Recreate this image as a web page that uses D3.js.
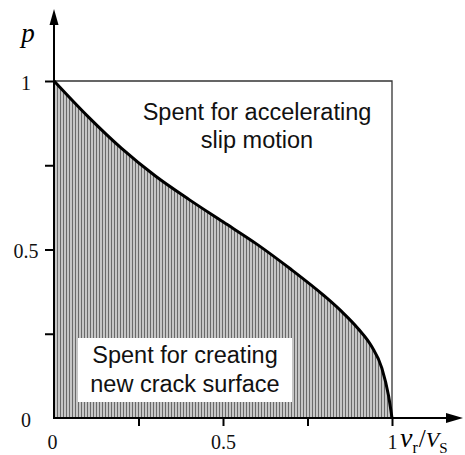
<!DOCTYPE html>
<html>
<head>
<meta charset="utf-8">
<script src="https://cdn.jsdelivr.net/npm/d3@7"></script>
<style>
  body { margin: 0; background: #fff; }
  .label { font-family: Arial, "Liberation Sans", sans-serif; font-size: 23.5px; fill: #111; }
  .tick text { font-family: "Times New Roman", "Liberation Serif", serif; font-size: 20px; fill: #111; }
</style>
</head>
<body>
<div id="chart"></div>
<script>
// energy fraction p vs rupture speed vr/Vs
const vr = [0, 0.1, 0.2, 0.3, 0.4, 0.5, 0.6, 0.7, 0.8, 0.85, 0.9, 0.94, 0.97, 0.99, 1];
const p = [1, 0.895, 0.80, 0.718, 0.648, 0.582, 0.516, 0.442, 0.362, 0.317, 0.265, 0.212, 0.148, 0.065, 0];
const xTicks = [0, 0.25, 0.5, 0.75, 1];
const yTicks = [0, 0.25, 0.5, 0.75, 1];
const xLabels = ['0', '', '0.5', '', '1'];
const yLabels = ['0', '', '0.5', '', '1'];
const upperText = ['Spent for accelerating', 'slip motion'];
const lowerText = ['Spent for creating', 'new crack surface'];

const width = 465, height = 455;
const data = vr.map((v, i) => ({ v: v, p: p[i] }));

const svg = d3.select('#chart').append('svg')
  .attr('width', width)
  .attr('height', height);

const x = d3.scaleLinear().domain([0, 1]).range([54, 392]);
const y = d3.scaleLinear().domain([0, 1]).range([418, 81]);

// hatch pattern
const pat = svg.append('defs').append('pattern')
  .attr('id', 'hatch')
  .attr('patternUnits', 'userSpaceOnUse')
  .attr('width', 3).attr('height', 10);
pat.append('rect').attr('width', 3).attr('height', 10).attr('fill', '#c6c6c6');
pat.append('rect').attr('width', 1).attr('height', 10).attr('fill', '#6a6a6a');

const area = d3.area()
  .x(d => x(d.v))
  .y0(y(0))
  .y1(d => y(d.p))
  .curve(d3.curveMonotoneX);
svg.append('path')
  .datum(data)
  .attr('d', area)
  .attr('fill', 'url(#hatch)');

// frame at p = 1 and vr = 1
svg.append('path')
  .attr('d', `M${x(0)},${y(1)}H${x(1)}V${y(0)}`)
  .attr('fill', 'none')
  .attr('stroke', '#333')
  .attr('stroke-width', 1.3);

// white box behind the lower text
svg.append('rect')
  .attr('x', 78).attr('y', 338)
  .attr('width', 214).attr('height', 64)
  .attr('fill', '#fff');

const line = d3.line()
  .x(d => x(d.v))
  .y(d => y(d.p))
  .curve(d3.curveMonotoneX);
svg.append('path')
  .datum(data)
  .attr('d', line)
  .attr('fill', 'none')
  .attr('stroke', '#000')
  .attr('stroke-width', 3);

// axes
const xAxis = d3.axisBottom(x)
  .tickValues(xTicks)
  .tickSize(8)
  .tickPadding(9)
  .tickFormat((d, i) => xLabels[i]);
const gx = svg.append('g')
  .attr('transform', `translate(0,${y(0)})`)
  .call(xAxis);
gx.select('.domain').remove();
gx.selectAll('.tick line').attr('stroke', '#000').attr('stroke-width', 2)
  .filter(d => d === 0).remove();
gx.selectAll('.tick text').attr('x', d => d === 0 ? -2 : 0);

const yAxis = d3.axisLeft(y)
  .tickValues(yTicks)
  .tickSize(9)
  .tickFormat((d, i) => yLabels[i]);
const gy = svg.append('g')
  .attr('transform', `translate(${x(0)},0)`)
  .call(yAxis);
gy.select('.domain').remove();
gy.selectAll('.tick line').attr('stroke', '#000').attr('stroke-width', 2)
  .filter(d => d === 0).remove();
gy.selectAll('.tick text')
  .attr('text-anchor', 'middle')
  .attr('x', 26 - x(0))
  .attr('dy', '0.42em');

// axis lines with arrows
svg.append('path')
  .attr('d', `M${x(0)},${y(0)}H455`)
  .attr('stroke', '#000').attr('stroke-width', 2);
svg.append('path')
  .attr('d', `M463,${y(0)}L446,${y(0) - 5}L446,${y(0) + 5}Z`)
  .attr('fill', '#000');
svg.append('path')
  .attr('d', `M${x(0)},${y(0) + 1}V16`)
  .attr('stroke', '#000').attr('stroke-width', 2);
svg.append('path')
  .attr('d', `M${x(0)},9L${x(0) - 4.5},25L${x(0) + 4.5},25Z`)
  .attr('fill', '#000');

// axis titles
svg.append('text')
  .attr('x', 28).attr('y', 42)
  .attr('text-anchor', 'middle')
  .style('font-family', '"Times New Roman", "Liberation Serif", serif')
  .style('font-style', 'italic')
  .style('font-size', '27px')
  .text('p');

const xt = svg.append('text')
  .attr('x', 400).attr('y', 446.5)
  .style('font-family', '"Times New Roman", "Liberation Serif", serif')
  .style('font-size', '22px');
xt.append('tspan').style('font-style', 'italic').style('font-size', '28px').text('v');
xt.append('tspan').attr('dy', 6).style('font-size', '16px').text('r');
xt.append('tspan').attr('dy', -6).attr('dx', 1).style('font-size', '25px').text('/');
xt.append('tspan').style('font-style', 'italic').text('V');
xt.append('tspan').attr('dy', 6).style('font-size', '15px').text('S');

// region labels
svg.selectAll('.upper')
  .data(upperText)
  .enter().append('text')
    .attr('class', 'label upper')
    .attr('x', 257)
    .attr('y', (d, i) => 120 + i * 27.5)
    .attr('text-anchor', 'middle')
    .text(d => d);

svg.selectAll('.lower')
  .data(lowerText)
  .enter().append('text')
    .attr('class', 'label lower')
    .attr('x', 185)
    .attr('y', (d, i) => 363 + i * 28.5)
    .attr('text-anchor', 'middle')
    .text(d => d);
</script>
</body>
</html>
